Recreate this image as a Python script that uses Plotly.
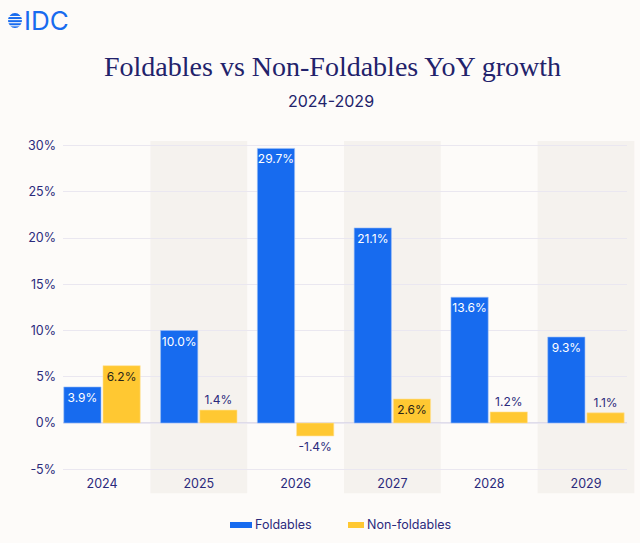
import plotly.graph_objects as go

years = ["2024", "2025", "2026", "2027", "2028", "2029"]
foldables = [3.9, 10.0, 29.7, 21.1, 13.6, 9.3]
non_foldables = [6.2, 1.4, -1.4, 2.6, 1.2, 1.1]
y_ticks = [-5, 0, 5, 10, 15, 20, 25, 30]
y_tick_labels = [f"{v}%" for v in y_ticks]
shaded_years = ["2025", "2027", "2029"]

BLUE = "#176bef"
YELLOW = "#ffc832"
NAVY = "#2b2a7c"
TITLE_NAVY = "#22226b"
BG = "#fdfbf9"
BAND = "#f5f2ee"
GRID = "#eae7f0"
FONT = "Inter, Lato, sans-serif"

W, H = 640, 543
ml, mr, mt, mb = 63, 13, 141, 71
x_range = [-0.403, 5.424]
y_range = [-5.3, 30.5]

fig = go.Figure()

fig.add_trace(go.Bar(
    x=years, y=foldables, name="Foldables",
    marker=dict(color=BLUE, line=dict(color="#9cc0f7", width=0.6)),
    text=[f"{v:.1f}%" for v in foldables],
    textposition="inside", insidetextanchor="end",
    insidetextfont=dict(color="white", size=12, family=FONT),
    textangle=0, cliponaxis=False, showlegend=False,
))
fig.add_trace(go.Bar(
    x=years, y=non_foldables, name="Non-foldables",
    marker=dict(color=YELLOW, line=dict(color="#ffe39a", width=0.6)),
    text=[f"{v:.1f}%" for v in non_foldables],
    textposition="auto", insidetextanchor="end",
    insidetextfont=dict(color="#2a2418", size=12, family=FONT),
    outsidetextfont=dict(color=NAVY, size=12, family=FONT),
    textangle=0, cliponaxis=False, showlegend=False,
))

shapes = []
span = x_range[1] - x_range[0]
for yr in shaded_years:
    i = years.index(yr)
    x0 = (i - 0.5 - x_range[0]) / span
    x1 = (i + 0.5 - x_range[0]) / span
    shapes.append(dict(type="rect", xref="paper", yref="paper",
                       x0=x0, x1=x1, y0=-0.064, y1=1.0,
                       fillcolor=BAND, line=dict(width=0), layer="below"))

# zero line
shapes.append(dict(type="line", xref="paper", yref="y", x0=0, x1=1, y0=0, y1=0,
                   line=dict(color="#d6d3e6", width=1.5), layer="below"))

# custom legend
pw = W - ml - mr
ph = H - mt - mb
def px_to_paper_x(px):
    return (px - ml) / pw
def px_to_paper_y(py):
    return (H - mb - py) / ph

legend_items = [("Foldables", BLUE, 230, 252), ("Non-foldables", YELLOW, 348, 364)]
annotations = []
for name, col, sx0, sx1 in legend_items:
    shapes.append(dict(type="rect", xref="paper", yref="paper",
                       x0=px_to_paper_x(sx0), x1=px_to_paper_x(sx1),
                       y0=px_to_paper_y(528), y1=px_to_paper_y(522),
                       fillcolor=col, line=dict(width=0)))
    annotations.append(dict(text=name, xref="paper", yref="paper",
                            x=px_to_paper_x(sx1 + 1), y=px_to_paper_y(524),
                            xanchor="left", yanchor="middle", showarrow=False,
                            font=dict(color=NAVY, size=12.5, family=FONT)))

# logo
shapes.append(dict(type="circle", xref="paper", yref="paper",
                   x0=px_to_paper_x(8), x1=px_to_paper_x(22),
                   y0=px_to_paper_y(28), y1=px_to_paper_y(13),
                   fillcolor=BLUE, line=dict(width=0)))
for py in [15.8, 18.9, 22.0, 25.1]:
    shapes.append(dict(type="line", xref="paper", yref="paper",
                       x0=px_to_paper_x(6), x1=px_to_paper_x(24),
                       y0=px_to_paper_y(py + 0.7), y1=px_to_paper_y(py + 0.7),
                       line=dict(color=BG, width=1.1)))
annotations.append(dict(text="IDC", xref="paper", yref="paper",
                        x=px_to_paper_x(22), y=px_to_paper_y(21),
                        xanchor="left", yanchor="middle", showarrow=False,
                        font=dict(color=BLUE, size=26, family=FONT)))

# titles
annotations.append(dict(text="Foldables vs Non-Foldables YoY growth",
                        xref="paper", yref="paper",
                        x=px_to_paper_x(332), y=px_to_paper_y(66),
                        xanchor="center", yanchor="middle", showarrow=False,
                        font=dict(color=TITLE_NAVY, size=28,
                                  family="Liberation Serif, DejaVu Serif, serif")))
annotations.append(dict(text="2024-2029", xref="paper", yref="paper",
                        x=px_to_paper_x(331), y=px_to_paper_y(101),
                        xanchor="center", yanchor="middle", showarrow=False,
                        font=dict(color=TITLE_NAVY, size=16, family=FONT)))

fig.update_layout(
    width=W, height=H,
    margin=dict(l=ml, r=mr, t=mt, b=mb, pad=0),
    paper_bgcolor=BG, plot_bgcolor="rgba(0,0,0,0)",
    barmode="group", bargap=0.19, bargroupgap=0.05,
    shapes=shapes, annotations=annotations,
    uniformtext=dict(minsize=12, mode="show"),
    font=dict(family=FONT, color=NAVY, size=12),
)
fig.update_xaxes(range=x_range, showgrid=False, zeroline=False,
                 showline=False, ticks="", tickfont=dict(size=12.5, color=NAVY),
                 ticklabelstandoff=2)
fig.update_yaxes(range=y_range, tickmode="array", tickvals=y_ticks,
                 ticktext=y_tick_labels,
                 showgrid=True, gridcolor=GRID, gridwidth=1.2, zeroline=False,
                 showline=False, ticks="", ticklabelstandoff=6,
                 tickfont=dict(size=12.5, color=NAVY))

fig.write_html(
    "out.html",
    config={"displayModeBar": False},
    post_script="document.body.style.margin='0';document.body.style.background='#fdfbf9';",
)
